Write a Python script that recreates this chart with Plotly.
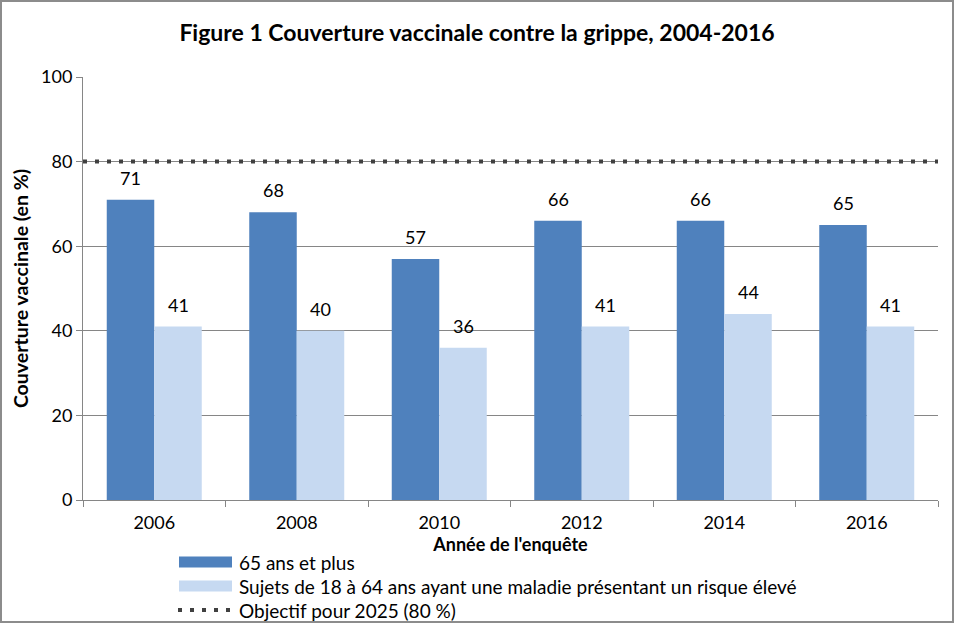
import plotly.graph_objects as go

years = ["2006", "2008", "2010", "2012", "2014", "2016"]
seniors = [71, 68, 57, 66, 66, 65]
at_risk = [41, 40, 36, 41, 44, 41]
target = 80

name_seniors = "65 ans et plus"
name_risk = "Sujets de 18 à 64 ans ayant une maladie présentant un risque élevé"
name_target = "Objectif pour 2025 (80 %)"

C_SEN = "#4F81BD"
C_RISK = "#C6D9F1"
C_TGT = "#404040"
FONT = "Lato, 'Open Sans', sans-serif"
W, H = 954, 623
ML, MR, MT, MB = 83, 16, 77, 123
PW, PH = W - ML - MR, H - MT - MB
BARGAP = 1 / 3
BAR_PX = PW / len(years) * (1 - BARGAP) / 2
DOT = dict(color=C_TGT, width=4, dash="4px,8px")


def px_x(px):
    return (px - ML) / PW


def px_y(py):
    return (H - MB - py) / PH


fig = go.Figure()
fig.add_trace(go.Bar(x=years, y=seniors, name=name_seniors,
                     marker=dict(color=C_SEN, line=dict(width=0))))
fig.add_trace(go.Bar(x=years, y=at_risk, name=name_risk,
                     marker=dict(color=C_RISK, line=dict(width=0))))

# data labels above bars
for vals, sign in ((seniors, -1), (at_risk, 1)):
    for i, v in enumerate(vals):
        fig.add_annotation(x=i, y=v, xref="x", yref="y", text=str(v), showarrow=False,
                           xshift=sign * BAR_PX / 2, yshift=22, yanchor="middle",
                           font=dict(size=18, color="#000000", family=FONT))

# target line spanning whole plot width
fig.add_shape(type="line", xref="paper", yref="y", x0=0, x1=1, y0=target, y1=target,
              line=DOT, layer="above")

# legend (drawn manually to match row spacing)
rows = [(name_seniors, C_SEN, 562), (name_risk, C_RISK, 586), (name_target, None, 610)]
for label, color, py in rows:
    if color:
        fig.add_shape(type="rect", xref="paper", yref="paper",
                      x0=px_x(179), x1=px_x(232), y0=px_y(py + 5.5), y1=px_y(py - 5.5),
                      line=dict(width=0), fillcolor=color)
    else:
        fig.add_shape(type="line", xref="paper", yref="paper",
                      x0=px_x(178), x1=px_x(234), y0=px_y(py), y1=px_y(py), line=DOT)
    fig.add_annotation(x=px_x(237), y=px_y(py), xref="paper", yref="paper", text=label,
                       showarrow=False, xanchor="left", yanchor="middle",
                       font=dict(size=19, color="#000000", family=FONT))

# outer border
fig.add_shape(type="rect", xref="paper", yref="paper",
              x0=-(ML - 1) / PW, x1=1 + (MR - 1) / PW,
              y0=-(MB - 1) / PH, y1=1 + (MT - 1) / PH,
              line=dict(color="#8C8C8C", width=2), fillcolor="rgba(0,0,0,0)", layer="below")

fig.update_layout(
    width=W, height=H,
    margin=dict(l=ML, r=MR, t=MT, b=MB, autoexpand=False),
    paper_bgcolor="white", plot_bgcolor="white",
    font=dict(family=FONT, color="#000000", size=18),
    title=dict(text="<b>Figure 1 Couverture vaccinale contre la grippe, 2004-2016</b>",
               x=0.5, xanchor="center", y=1 - 33 / H, yanchor="middle",
               font=dict(size=23, family=FONT)),
    barmode="group", bargap=BARGAP, bargroupgap=0,
    showlegend=False,
    xaxis=dict(
        type="category", range=[-0.5, len(years) - 0.5],
        showline=True, linecolor="#868686", linewidth=1,
        ticks="outside", tickson="boundaries", ticklen=6, tickcolor="#868686",
        tickfont=dict(size=18, family=FONT), ticklabelstandoff=6,
        title=dict(text="<b>Année de l'enquête</b>", font=dict(size=18, family=FONT), standoff=2),
        showgrid=False,
    ),
    yaxis=dict(
        range=[0, 100], dtick=20, showline=True, linecolor="#868686", linewidth=1,
        ticks="outside", ticklen=6, tickcolor="#868686",
        showgrid=True, gridcolor="#868686", gridwidth=1, zeroline=False,
        tickfont=dict(size=18, family=FONT),
        title=dict(text="<b>Couverture vaccinale (en %)</b>", font=dict(size=19.5, family=FONT), standoff=7),
    ),
)

fig.write_html("out.html")
